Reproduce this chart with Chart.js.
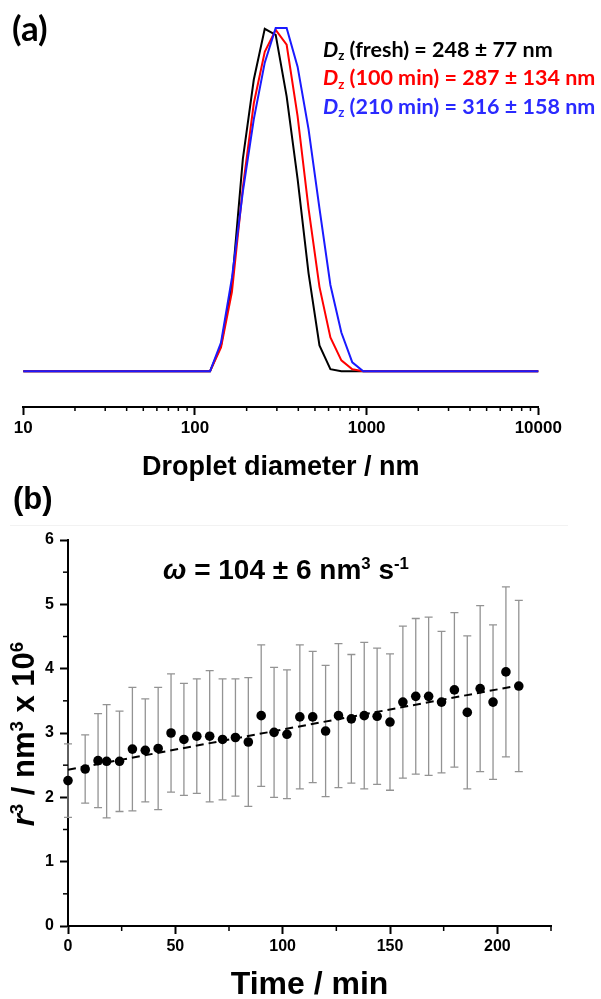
<!DOCTYPE html>
<html><head><meta charset="utf-8">
<script src="https://cdn.jsdelivr.net/npm/chart.js@4.4.0/dist/chart.umd.min.js"></script>
<style>
html,body{margin:0;padding:0;background:#fff;overflow:hidden;width:601px;height:999px;position:relative;}
canvas{position:absolute;left:0;}
.t{position:absolute;white-space:nowrap;line-height:1;}
.cal{font-family:Lato,'Open Sans',sans-serif;font-weight:bold;}
.ar{font-family:'Liberation Sans',Arial,sans-serif;font-weight:bold;color:#000;}
.sub{font-size:0.62em;position:relative;top:0.28em;}
.sup{font-size:0.6em;position:relative;top:-0.6em;}
</style></head><body>
<canvas id="ca" width="601" height="490" style="top:0"></canvas>
<canvas id="cb" width="601" height="530" style="top:490px"></canvas>
<div style="position:absolute;left:10px;top:525px;width:558px;height:1px;background:#f2f2f2"></div>
<div class="t cal" style="left:12px;top:10px;font-size:35px;color:#000">(a)</div>
<div class="t cal" style="left:323px;top:38.5px;font-size:21.5px;color:#000"><i>D</i><span class="sub">z</span> (fresh) = 248 ± 77 nm</div>
<div class="t cal" style="left:323px;top:67px;font-size:21.5px;color:#ff0000"><i>D</i><span class="sub">z</span> (100 min) = 287 ± 134 nm</div>
<div class="t cal" style="left:323px;top:95.5px;font-size:21.5px;color:#2a2aff"><i>D</i><span class="sub">z</span> (210 min) = 316 ± 158 nm</div>
<div class="t ar" style="left:13px;top:483px;font-size:31px">(b)</div>
<div class="t ar" style="left:163px;top:556px;font-size:28px"><i>ω</i> = 104 ± 6 nm<span class="sup">3</span> s<span class="sup">-1</span></div>
<div class="t ar" style="left:23px;top:734px;font-size:31px;transform:translate(-50%,-50%) rotate(-90deg)"><i>r</i><span class="sup">3</span> / nm<span class="sup">3</span> x 10<span class="sup">6</span></div>
<script>
// ---- Panel (a): droplet size distributions ----
const sizes = [10, 105.7, 122.4, 141.8, 164.2, 190.1, 220.2, 255.0, 295.3, 342.0, 396.1, 458.7, 531.2, 615.1, 712.4, 825.0, 955.4, 1106, 10000];
const freshIntensity = [0,0,0,1.37,4.57,11.25,15.45,18.13,17.81,14.56,10.19,5.20,1.37,0.11,0,0,0,0,0];
const min100Intensity = [0,0,0,1.26,4.20,9.72,14.19,16.92,18.08,17.29,13.51,8.62,4.47,1.79,0.58,0.11,0,0,0];
const min210Intensity = [0,0,0,1.52,4.94,9.51,13.35,16.34,18.18,18.18,16.13,12.82,8.62,4.57,2.05,0.47,0,0,0];
const xTicksA = [10, 100, 1000, 10000];
const xMinorA = [20,30,40,50,60,70,80,90,200,300,400,500,600,700,800,900,2000,3000,4000,5000,6000,7000,8000,9000];

// ---- Panel (b): r^3 vs time ----
const timeMin = [0,8,14,18,24,30,36,42,48,54,60,66,72,78,84,90,96,102,108,114,120,126,132,138,144,150,156,162,168,174,180,186,192,198,204,210];
const r3 = [2.26,2.44,2.57,2.56,2.56,2.75,2.73,2.76,3.00,2.90,2.95,2.95,2.90,2.93,2.86,3.27,3.01,2.98,3.25,3.25,3.03,3.27,3.22,3.27,3.26,3.17,3.48,3.57,3.57,3.48,3.67,3.32,3.69,3.48,3.95,3.73];
const r3Err = [0.57,0.53,0.73,0.88,0.78,0.96,0.80,0.95,0.92,0.87,0.89,1.02,0.94,0.91,1.00,1.10,1.01,1.00,1.12,1.02,1.02,1.12,1.00,1.14,1.06,1.06,1.18,1.21,1.23,1.10,1.20,1.19,1.29,1.20,1.32,1.33];
const fitTime = [0, 210];
const fitR3 = [2.43, 3.74];
const xTicksB = [0, 50, 100, 150, 200];
const xMinorB = [25, 75, 125, 175, 225];
const yTicksB = [0, 1, 2, 3, 4, 5, 6];
const yMinorB = [0.5, 1.5, 2.5, 3.5, 4.5, 5.5];

const FONT = "'Liberation Sans', Arial, sans-serif";

const minorTicks = {
  id: 'minorTicks',
  afterDraw(chart, args, opts) {
    const ctx = chart.ctx, ca = chart.chartArea;
    ctx.save();
    ctx.strokeStyle = '#000';
    ctx.lineWidth = opts.width;
    (opts.x || []).forEach(v => {
      const px = chart.scales.x.getPixelForValue(v);
      ctx.beginPath(); ctx.moveTo(px, ca.bottom); ctx.lineTo(px, ca.bottom + opts.len); ctx.stroke();
    });
    (opts.y || []).forEach(v => {
      const py = chart.scales.y.getPixelForValue(v);
      ctx.beginPath(); ctx.moveTo(ca.left, py); ctx.lineTo(ca.left - opts.len, py); ctx.stroke();
    });
    ctx.restore();
  }
};

const errorBars = {
  id: 'errorBars',
  beforeDatasetsDraw(chart, args, opts) {
    const ctx = chart.ctx, xs = chart.scales.x, ys = chart.scales.y;
    ctx.save();
    ctx.strokeStyle = opts.color;
    ctx.lineWidth = opts.width;
    opts.xs.forEach((t, i) => {
      const px = xs.getPixelForValue(t);
      const top = ys.getPixelForValue(opts.ys[i] + opts.errs[i]);
      const bot = ys.getPixelForValue(opts.ys[i] - opts.errs[i]);
      ctx.beginPath();
      ctx.moveTo(px, top); ctx.lineTo(px, bot);
      ctx.moveTo(px - opts.cap, top); ctx.lineTo(px + opts.cap, top);
      ctx.moveTo(px - opts.cap, bot); ctx.lineTo(px + opts.cap, bot);
      ctx.stroke();
    });
    ctx.restore();
  }
};

new Chart(document.getElementById('ca'), {
  type: 'line',
  data: {
    datasets: [
      {label: 'fresh', data: sizes.map((s, i) => ({x: s, y: freshIntensity[i]})), borderColor: '#000000', borderWidth: 2, pointRadius: 0, order: 3, clip: false, tension: 0},
      {label: '100 min', data: sizes.map((s, i) => ({x: s, y: min100Intensity[i]})), borderColor: '#ff0000', borderWidth: 2, pointRadius: 0, order: 2, clip: false, tension: 0},
      {label: '210 min', data: sizes.map((s, i) => ({x: s, y: min210Intensity[i]})), borderColor: '#1a1aff', borderWidth: 2, pointRadius: 0, order: 1, clip: false, tension: 0}
    ]
  },
  options: {
    responsive: false, animation: false, devicePixelRatio: 1,
    layout: {padding: {left: 23.3, right: 62.7, top: 20, bottom: 6.2}},
    plugins: {legend: {display: false}, tooltip: {enabled: false}, minorTicks: {x: xMinorA, len: 4, width: 1.5}},
    scales: {
      x: {
        type: 'logarithmic', min: 10, max: 10000,
        afterBuildTicks: s => { s.ticks = xTicksA.map(v => ({value: v})); },
        ticks: {callback: v => String(v), font: {family: FONT, size: 17, weight: 'bold'}, color: '#000', padding: 3, maxRotation: 0, autoSkip: false},
        grid: {drawOnChartArea: false, drawTicks: true, tickLength: 8, tickWidth: 2, tickColor: '#000'},
        border: {display: true, color: '#000', width: 2},
        title: {display: true, text: 'Droplet diameter / nm', color: '#000', font: {family: FONT, size: 27, weight: 'bold'}, padding: {top: 10, bottom: 0}}
      },
      y: {display: false, min: -1.892, max: 18.60}
    }
  },
  plugins: [minorTicks]
});

new Chart(document.getElementById('cb'), {
  type: 'scatter',
  data: {
    datasets: [
      {label: 'r3', data: timeMin.map((t, i) => ({x: t, y: r3[i]})), backgroundColor: '#000', borderWidth: 0, pointRadius: 4.8, clip: false, order: 1},
      {label: 'fit', type: 'line', data: fitTime.map((t, i) => ({x: t, y: fitR3[i]})), borderColor: '#000', borderWidth: 2, borderDash: [8, 5], pointRadius: 0, showLine: true, clip: false, order: 2}
    ]
  },
  options: {
    responsive: false, animation: false, devicePixelRatio: 1,
    layout: {padding: {left: 0, right: 50, top: 50, bottom: 15.8}},
    plugins: {
      legend: {display: false}, tooltip: {enabled: false},
      minorTicks: {x: xMinorB, y: yMinorB, len: 5, width: 1.5},
      errorBars: {xs: timeMin, ys: r3, errs: r3Err, color: '#939393', width: 1.3, cap: 4}
    },
    scales: {
      x: {
        type: 'linear', min: 0, max: 225,
        afterBuildTicks: s => { s.ticks = xTicksB.map(v => ({value: v})); },
        ticks: {callback: v => String(v), font: {family: FONT, size: 16, weight: 'bold'}, color: '#000', padding: 3, maxRotation: 0, autoSkip: false},
        grid: {drawOnChartArea: false, drawTicks: true, tickLength: 8, tickWidth: 2, tickColor: '#000'},
        border: {display: true, color: '#000', width: 2},
        title: {display: true, text: 'Time / min', color: '#000', font: {family: FONT, size: 32, weight: 'bold'}, padding: {top: 6.6, bottom: 0}}
      },
      y: {
        type: 'linear', min: 0, max: 6,
        afterBuildTicks: s => { s.ticks = yTicksB.map(v => ({value: v})); },
        afterFit: s => { s.width = 68; },
        ticks: {callback: v => String(v), font: {family: FONT, size: 16, weight: 'bold'}, color: '#000', padding: 6, autoSkip: false},
        grid: {drawOnChartArea: false, drawTicks: true, tickLength: 8, tickWidth: 2, tickColor: '#000'},
        border: {display: true, color: '#000', width: 2}
      }
    }
  },
  plugins: [minorTicks, errorBars]
});
</script>
</body></html>
